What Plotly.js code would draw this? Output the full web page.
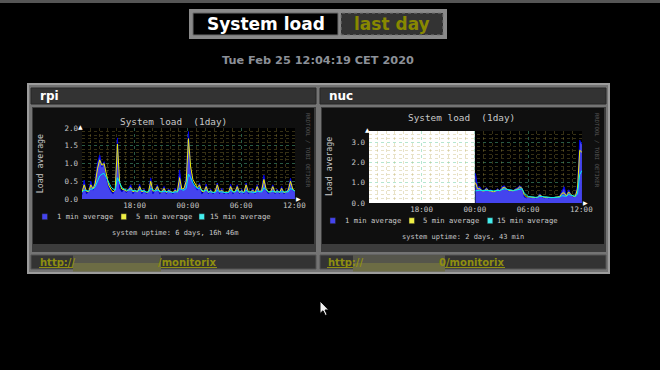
<!DOCTYPE html>
<html><head><meta charset="utf-8">
<script src="https://cdn.plot.ly/plotly-3.0.1.min.js"></script>
<style>html,body{margin:0;padding:0;background:#000;overflow:hidden}#chart{width:660px;height:370px}</style>
</head><body><div id="chart"></div>
<script>
// ---------------- data ----------------
const hosts = ['rpi', 'nuc'];
const seriesNames = ['1 min average', '5 min average', '15 min average'];
const uptimes = ['system uptime: 6 days, 16h 46m', 'system uptime: 2 days, 43 min'];
const graphTitle = 'System load  (1day)';
const yTitle = 'Load average';
const pageTitle = 'System load';
const periodLabel = 'last day';
const dateLabel = 'Tue Feb 25 12:04:19 CET 2020';
const rangeStart = '2020-02-24 12:04:19';
const rangeEnd = '2020-02-25 12:04:19';
const rpiStart = '2020-02-24 12:04:00';
const nucStart = '2020-02-25 00:04:00';
const stepMinutes = 15;
const rpiYMax = 2;
const nucYMax = 3.55;

const rpiLoad1 = [
0.12,0.53,0.15,0.2,0.5,0.25,0.55,1.0,1.24,0.9,
1.05,0.6,0.35,0.22,0.15,0.28,1.72,0.3,0.2,0.28,
0.18,0.3,0.4,0.15,0.25,0.2,0.42,0.15,0.28,0.15,
0.2,0.59,0.15,0.25,0.4,0.15,0.2,0.35,0.15,0.28,
0.2,0.15,0.3,0.2,0.82,0.25,0.3,0.6,1.9,0.8,
0.45,0.35,0.25,0.45,0.15,0.2,0.42,0.15,0.28,0.15,
0.2,0.45,0.15,0.3,0.15,0.2,0.15,0.42,0.15,0.2,
0.4,0.15,0.28,0.15,0.45,0.15,0.2,0.3,0.15,0.4,
0.2,0.28,0.67,0.25,0.15,0.2,0.4,0.15,0.28,0.15,
0.35,0.15,0.2,0.3,0.58,0.25,0.2];
const rpiLoad5 = [
0.18,0.4,0.22,0.2,0.4,0.28,0.45,0.85,1.1,0.95,
1.0,0.65,0.4,0.28,0.2,0.25,1.55,0.45,0.28,0.26,
0.22,0.26,0.32,0.2,0.24,0.2,0.35,0.2,0.24,0.18,
0.2,0.5,0.22,0.24,0.35,0.2,0.2,0.3,0.18,0.24,
0.2,0.18,0.25,0.2,0.6,0.28,0.3,0.5,1.7,0.9,
0.55,0.42,0.32,0.4,0.22,0.2,0.35,0.18,0.24,0.18,
0.2,0.4,0.2,0.25,0.18,0.2,0.18,0.35,0.2,0.2,
0.35,0.18,0.24,0.18,0.4,0.2,0.2,0.25,0.18,0.35,
0.2,0.24,0.55,0.28,0.2,0.2,0.35,0.18,0.24,0.18,
0.3,0.18,0.2,0.25,0.5,0.28,0.22];
const rpiLoad15 = [
0.2,0.25,0.24,0.22,0.28,0.28,0.35,0.5,0.65,0.7,
0.72,0.6,0.45,0.35,0.28,0.25,0.6,0.45,0.32,0.28,
0.25,0.25,0.26,0.24,0.24,0.22,0.26,0.23,0.22,0.2,
0.2,0.3,0.25,0.22,0.25,0.22,0.2,0.22,0.2,0.2,
0.2,0.18,0.2,0.2,0.3,0.26,0.25,0.3,0.7,0.6,
0.45,0.35,0.3,0.3,0.25,0.22,0.25,0.2,0.2,0.18,
0.18,0.25,0.2,0.2,0.18,0.18,0.18,0.25,0.2,0.2,
0.25,0.2,0.2,0.18,0.25,0.2,0.2,0.2,0.18,0.22,
0.2,0.2,0.32,0.25,0.2,0.2,0.22,0.2,0.2,0.18,
0.2,0.18,0.18,0.2,0.3,0.25,0.22];

const nucLoad1 = [
1.46,0.75,0.8,0.6,0.65,0.75,0.6,0.65,0.55,0.6,
0.7,0.6,0.8,0.85,0.7,0.6,0.65,0.6,0.7,0.75,
0.85,0.75,0.3,0.25,0.3,0.25,0.3,0.25,0.3,0.45,
0.3,0.25,0.3,0.25,0.28,0.25,0.3,0.28,0.35,0.55,
0.8,0.35,0.65,0.4,0.3,0.35,0.9,3.1,2.9];
const nucLoad5 = [
1.0,0.7,0.7,0.6,0.6,0.7,0.6,0.6,0.55,0.58,
0.65,0.6,0.72,0.78,0.7,0.62,0.62,0.6,0.65,0.7,
0.8,0.72,0.4,0.3,0.3,0.28,0.28,0.27,0.28,0.4,
0.32,0.28,0.28,0.26,0.27,0.26,0.28,0.28,0.32,0.48,
0.5,0.35,0.55,0.42,0.33,0.33,0.7,2.6,2.5];
const nucLoad15 = [
0.6,0.62,0.63,0.62,0.62,0.64,0.62,0.62,0.6,0.6,
0.62,0.62,0.66,0.7,0.68,0.65,0.63,0.62,0.63,0.65,
0.7,0.7,0.5,0.38,0.32,0.3,0.28,0.28,0.28,0.33,
0.32,0.3,0.28,0.27,0.27,0.27,0.27,0.27,0.29,0.36,
0.36,0.33,0.42,0.4,0.35,0.33,0.45,1.4,1.6];

// ---------------- helpers ----------------
const W = 660, H = 370;
const X = p => p / W;
const Y = p => 1 - p / H;
function times(start, n) {
  const t0 = Date.parse(start.replace(' ', 'T') + 'Z');
  return Array.from({length: n}, (_, i) => new Date(t0 + i * stepMinutes * 60000).toISOString().slice(0, 19).replace('T', ' '));
}
function rect(x0, y0, x1, y1, fill, line, lw, dash) {
  return {type: 'rect', xref: 'paper', yref: 'paper', x0: X(x0), x1: X(x1), y0: Y(y1), y1: Y(y0),
    fillcolor: fill, line: {color: line || fill, width: lw || 0, dash: dash || 'solid'}, layer: 'below'};
}
function hline(x0, x1, y, color, lw) {
  return {type: 'line', xref: 'paper', yref: 'paper', x0: X(x0), x1: X(x1), y0: Y(y), y1: Y(y), line: {color: color, width: lw || 1}, layer: 'above'};
}
function txt(x, y, text, size, color, o) {
  o = o || {};
  return Object.assign({xref: 'paper', yref: 'paper', x: X(x), y: Y(y), text: text, showarrow: false,
    xanchor: 'center', yanchor: 'middle', borderpad: 0,
    font: {family: o.family || 'DejaVu Sans', size: size, color: color}}, o.extra || {});
}
const MONO = 'DejaVu Sans Mono';
const colFill = ['#4444ee', '#eeee44', '#44eeee'];
const colLine = ['#0000ee', '#eeee00', '#00eeee'];

// ---------------- traces ----------------
const rpiT = times(rpiStart, rpiLoad1.length);
const nucT = times(nucStart, nucLoad1.length);
const data = [];
function addHost(t, s1, s5, s15, xa, ya) {
  data.push({type: 'scatter', mode: 'lines', x: t, y: s1, name: seriesNames[0], xaxis: xa, yaxis: ya,
    fill: 'tozeroy', fillcolor: colFill[0], line: {color: colLine[0], width: 1}, hoverinfo: 'skip'});
  data.push({type: 'scatter', mode: 'lines', x: t, y: s5, name: seriesNames[1], xaxis: xa, yaxis: ya,
    line: {color: colLine[1], width: 1}, hoverinfo: 'skip'});
  data.push({type: 'scatter', mode: 'lines', x: t, y: s15, name: seriesNames[2], xaxis: xa, yaxis: ya,
    line: {color: colLine[2], width: 1}, hoverinfo: 'skip'});
}
addHost(rpiT, rpiLoad1, rpiLoad5, rpiLoad15, 'x', 'y');
addHost(nucT, nucLoad1, nucLoad5, nucLoad15, 'x2', 'y2');

// ---------------- geometry ----------------
const geo = [
  {L: 82, R: 295, T: 128, B: 199, ymax: rpiYMax, ydt: 0.5, yminor: 0.1, col: [31, 316],
   title: [173.5, 122], ylab: [39.7, 163.5], rrd: [308, 150], legY: 216.7,
   sq: [42, 121, 199], lt: [56, 134.7, 209], up: [174.7, 233.3],
   url: {x: 39, blur: [73, 161], end: 217, tailText: '/monitorix'}},
  {L: 369, R: 582, T: 131, B: 203, ymax: nucYMax, ydt: 1, yminor: 0.2, col: [320, 606],
   title: [462, 117], ylab: [329, 167], rrd: [597, 150], legY: 220.7,
   sq: [330, 409, 487.3], lt: [344, 422.3, 496.3], up: [463.3, 237.3],
   url: {x: 327, blur: [353, 445], end: 505, tailText: '0/monitorix'}}
];

const MAJOR = 'rgba(90,200,150,0.45)';
const MINOR = 'rgba(180,160,70,0.3)';
function xaxis(g, anchor) {
  return {type: 'date', domain: [X(g.L), X(g.R)], range: [rangeStart, rangeEnd], anchor: anchor,
    tickformat: '%H:%M', dtick: 6 * 3600000, tick0: '2020-02-24 00:00:00', ticks: '',
    tickfont: {family: MONO, size: 7.5, color: '#c8c8c8'},
    showgrid: true, gridcolor: MAJOR, griddash: 'dot', gridwidth: 1,
    minor: {dtick: 3600000, showgrid: true, gridcolor: MINOR, griddash: 'dot', gridwidth: 1},
    showline: false, zeroline: false, fixedrange: true};
}
function yaxis(g, anchor) {
  return {domain: [Y(g.B), Y(g.T)], range: [0, g.ymax], anchor: anchor, dtick: g.ydt, tick0: 0,
    tickformat: '.1f', ticks: '', ticklabelstandoff: 3,
    tickfont: {family: MONO, size: 7.5, color: '#c8c8c8'},
    showgrid: true, gridcolor: MAJOR, griddash: 'dot', gridwidth: 1,
    minor: {dtick: g.yminor, showgrid: true, gridcolor: MINOR, griddash: 'dot', gridwidth: 1},
    showline: false, zeroline: false, fixedrange: true};
}

// ---------------- chrome ----------------
const shapes = [];
const ann = [];
shapes.push(rect(0, 0, 660, 3, '#555555'));
shapes.push(rect(189, 9, 447, 39, '#8a8a8a'));
shapes.push(rect(193, 13, 338, 35, '#000000', '#6a6a6a', 1));
shapes.push(rect(341, 13, 443, 35, '#333333', '#777777', 1, 'dot'));
ann.push(txt(265.5, 24, '<b>' + pageTitle + '</b>', 17, '#ffffff'));
ann.push(txt(392, 24, '<b>' + periodLabel + '</b>', 17, '#888800'));
ann.push(txt(318, 61, '<b>' + dateLabel + '</b>', 11.3, '#8c9098'));
shapes.push(rect(28, 84, 609, 273, '#747474', '#9c9c9c', 2));

hosts.forEach((h, i) => {
  const g = geo[i];
  const c0 = g.col[0], c1 = g.col[1];
  const xa = i ? 'x2' : 'x', ya = i ? 'y2' : 'y';
  shapes.push(rect(c0, 88, c1, 104, '#333333', '#262626', 1));
  ann.push(txt(c0 + 8, 96, '<b>' + h + '</b>', 12, '#ffffff', {extra: {xanchor: 'left'}}));
  shapes.push(rect(c0 + 1, 107, c1, 252, '#3c3c3c'));
  shapes.push(rect(c0 + 2, 108, c1 - 2, 244, '#0f0f0f'));
  shapes.push(rect(c0, 255, c1, 269, '#333333', '#555555', 1));
  ann.push(txt(g.url.x, 262, '<b>http://</b>', 10, '#8f8f10', {extra: {xanchor: 'left'}}));
  ann.push(txt(g.url.end, 262, '<b>' + g.url.tailText + '</b>', 10, '#8f8f10', {extra: {xanchor: 'right'}}));
  shapes.push(hline(g.url.x, g.url.end, 267.5, '#8f8f10', 1));
  const b = g.url.blur;
  shapes.push(Object.assign(rect(b[0], 255, b[1], 263, '#55554b'), {layer: 'above'}));
  shapes.push(Object.assign(rect(b[0], 263, b[1], 271.5, '#6c6c44'), {layer: 'above'}));
  shapes.push({type: 'rect', xref: xa + ' domain', yref: ya + ' domain', x0: 0, x1: 1, y0: 0, y1: 1,
    fillcolor: '#000000', line: {width: 0}, layer: 'below'});
  ann.push(txt(g.title[0], g.title[1], graphTitle, 9.4, '#c8c8c8', {family: MONO}));
  ann.push(txt(g.ylab[0], g.ylab[1], yTitle, 8.2, '#c8c8c8', {family: MONO, extra: {textangle: -90}}));
  ann.push(txt(g.rrd[0], g.rrd[1], 'RRDTOOL / TOBI OETIKER', 5.6, '#585858', {family: MONO, extra: {textangle: 90}}));
  ann.push(txt(g.L - 2, g.T - 2, '▲', 6, '#ffffff'));
  ann.push(txt(g.R + 3, g.B, '▶', 6, '#ffffff'));
  for (let k = 0; k < 3; k++) {
    shapes.push(Object.assign(rect(g.sq[k], g.legY - 3, g.sq[k] + 5.5, g.legY + 3, colFill[k], '#222222', 0.5), {layer: 'above'}));
    ann.push(txt(g.lt[k], g.legY, seriesNames[k], 7.2, '#c8c8c8', {family: MONO, extra: {xanchor: 'left'}}));
  }
  ann.push(txt(g.up[0], g.up[1], uptimes[i], 7, '#c8c8c8', {family: MONO}));
});
shapes.push({type: 'rect', xref: 'x2', yref: 'y2 domain', x0: rangeStart, x1: '2020-02-25 00:00:00', y0: 0, y1: 1,
  fillcolor: '#ffffff', line: {width: 0}, layer: 'below'});

const cur = [[320, 301], [320, 313.5], [323, 310.8], [325.3, 315.5], [327.2, 314.6], [325, 310], [328.8, 310]];
shapes.push({type: 'path', xref: 'paper', yref: 'paper',
  path: 'M' + cur.map(p => X(p[0]) + ',' + Y(p[1])).join(' L') + ' Z',
  fillcolor: '#f0f0f0', line: {color: '#000000', width: 1}, layer: 'above'});

const layout = {
  width: W, height: H, margin: {l: 0, r: 0, t: 0, b: 0},
  paper_bgcolor: '#000000', plot_bgcolor: 'rgba(0,0,0,0)',
  showlegend: false,
  xaxis: xaxis(geo[0], 'y'), yaxis: yaxis(geo[0], 'x'),
  xaxis2: xaxis(geo[1], 'y2'), yaxis2: yaxis(geo[1], 'x2'),
  shapes: shapes, annotations: ann,
  font: {family: 'DejaVu Sans'}
};
Plotly.newPlot('chart', data, layout, {displayModeBar: false, staticPlot: true});
</script>
</body></html>
